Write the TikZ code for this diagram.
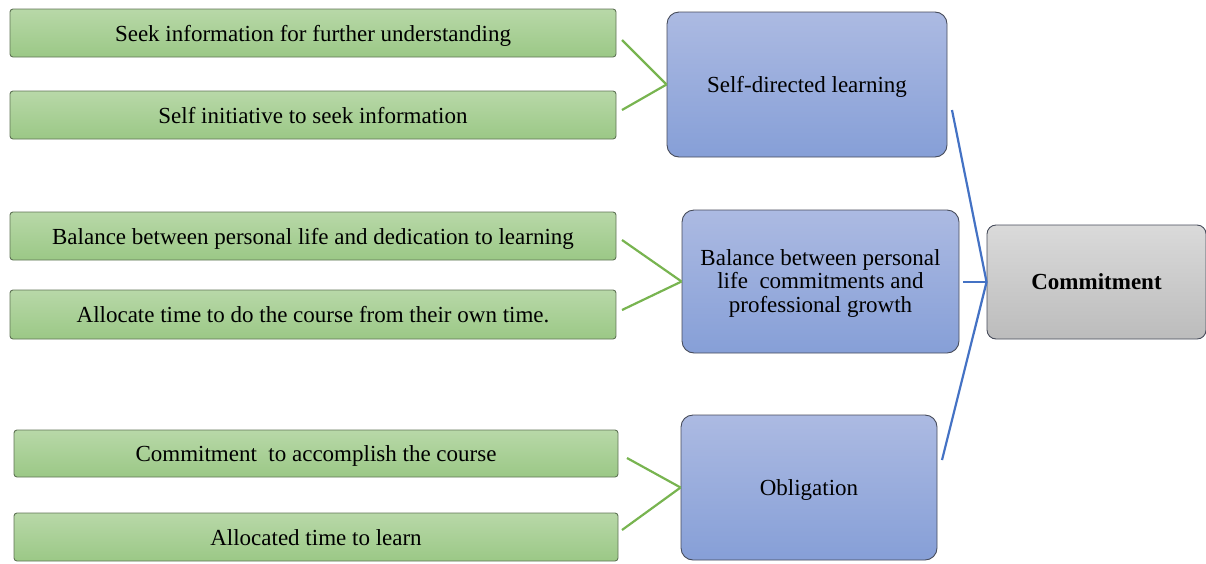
\documentclass[tikz,border=0pt]{standalone}
\usepackage{fontspec}
\setmainfont{Liberation Serif}
\definecolor{gtop}{RGB}{184,216,168}
\definecolor{gbot}{RGB}{155,200,134}
\definecolor{gbord}{RGB}{95,115,85}
\definecolor{btop}{RGB}{172,186,226}
\definecolor{bbot}{RGB}{134,159,215}
\definecolor{bbord}{RGB}{70,75,90}
\definecolor{ctop}{RGB}{218,218,218}
\definecolor{cbot}{RGB}{188,188,188}
\definecolor{gline}{RGB}{120,180,80}
\definecolor{bline}{RGB}{68,114,196}
\tikzset{
  leafbox/.style={draw=gbord, line width=0.9pt, rounded corners=3pt, top color=gtop, bottom color=gbot,
    inner sep=0pt, text height=17pt, text depth=1pt, font=\fontsize{23}{24}\selectfont},
  midbox/.style={draw=bbord, line width=0.9pt, rounded corners=12pt, top color=btop, bottom color=bbot,
    inner sep=0pt, align=center, font=\fontsize{23}{23.5}\selectfont},
  onelinemid/.style={midbox, text height=17pt, text depth=1.5pt},
  rootbox/.style={draw=bbord, line width=0.9pt, rounded corners=9pt, top color=ctop, bottom color=cbot,
    inner sep=0pt, font=\fontsize{23}{24}\selectfont\bfseries},
  gconn/.style={draw=gline, line width=2.2pt},
  bconn/.style={draw=bline, line width=2.2pt}
}
\begin{document}
\begin{tikzpicture}[x=1pt,y=-1pt]
\useasboundingbox (0,0) rectangle (1206,563);
% leaf boxes
\node[leafbox, minimum width=606, minimum height=48] (g1) at (313,33) {Seek information for further understanding};
\node[leafbox, minimum width=606, minimum height=48] (g2) at (313,115) {Self initiative to seek information};
\node[leafbox, minimum width=606, minimum height=48] (g3) at (313,236) {Balance between personal life and dedication to learning};
\node[leafbox, minimum width=606, minimum height=49] (g4) at (313,314.5) {Allocate time to do the course from their own time.};
\node[leafbox, minimum width=604, minimum height=47] (g5) at (316,453.5) {Commitment\ \ to accomplish the course};
\node[leafbox, minimum width=604, minimum height=48] (g6) at (316,537) {Allocated time to learn};
% middle boxes
\node[onelinemid, minimum width=280, minimum height=145] (b1) at (807,84.5) {Self-directed learning};
\node[midbox, minimum width=277, minimum height=143] (b2) at (820.5,281.5) {\rule{0pt}{19pt}Balance between personal\\life\ \ commitments and\\professional growth};
\node[onelinemid, minimum width=256, minimum height=145] (b3) at (809,487.5) {Obligation};
% root
\node[rootbox, minimum width=219, minimum height=114] (c) at (1096.5,282) {Commitment};
% free ends
\coordinate (g1e) at (622,40);
\coordinate (g2e) at (622,110);
\coordinate (g3e) at (622,240);
\coordinate (g4e) at (622,310);
\coordinate (g5e) at (627,458);
\coordinate (g6e) at (622,530);
\coordinate (b1e) at (952,110);
\coordinate (b2e) at (963,282);
\coordinate (b3e) at (942,460);
% connectors
\draw[gconn] (g1e) -- (b1.west);
\draw[gconn] (g2e) -- (b1.west);
\draw[gconn] (g3e) -- (b2.west);
\draw[gconn] (g4e) -- (b2.west);
\draw[gconn] (g5e) -- (b3.west);
\draw[gconn] (g6e) -- (b3.west);
\draw[bconn] (b1e) -- (c.west);
\draw[bconn] (b2e) -- (c.west);
\draw[bconn] (b3e) -- (c.west);
\end{tikzpicture}
\end{document}
